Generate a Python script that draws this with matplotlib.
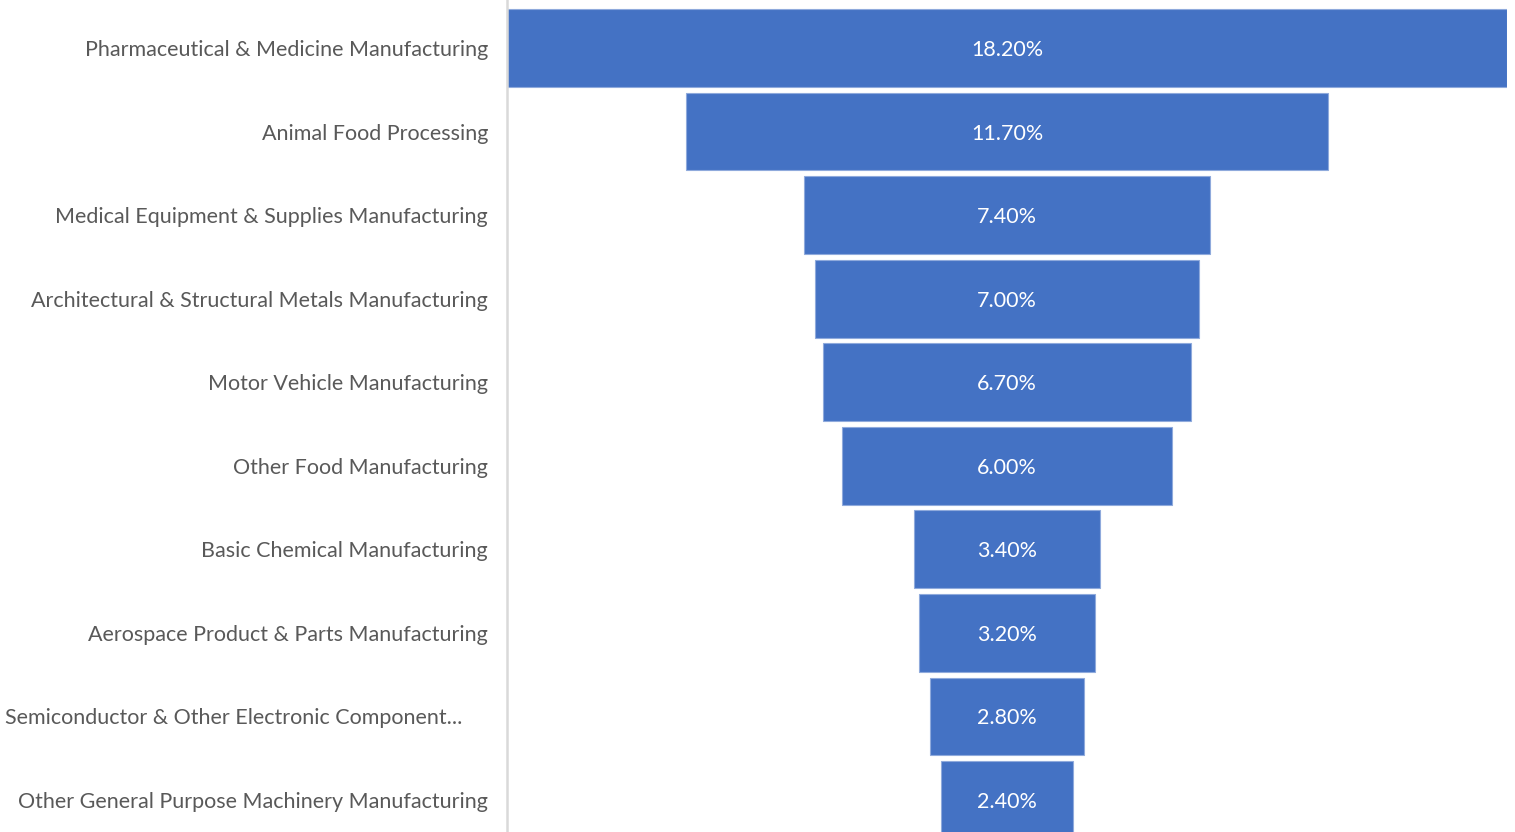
import matplotlib
matplotlib.use("Agg")
import matplotlib.pyplot as plt
import matplotlib.transforms as mtrans
import numpy as np

categories = [
    "Pharmaceutical & Medicine Manufacturing",
    "Animal Food Processing",
    "Medical Equipment & Supplies Manufacturing",
    "Architectural & Structural Metals Manufacturing",
    "Motor Vehicle Manufacturing",
    "Other Food Manufacturing",
    "Basic Chemical Manufacturing",
    "Aerospace Product & Parts Manufacturing",
    "Semiconductor & Other Electronic Component...",
    "Other General Purpose Machinery Manufacturing",
]
values = [18.2, 11.7, 7.4, 7.0, 6.7, 6.0, 3.4, 3.2, 2.8, 2.4]
value_labels = ["18.20%", "11.70%", "7.40%", "7.00%", "6.70%",
                "6.00%", "3.40%", "3.20%", "2.80%", "2.40%"]

W, H = 1515, 832
fig = plt.figure(figsize=(W / 100, H / 100), dpi=100)
fig.patch.set_facecolor("white")

ax_left = 507 / W
ax_w = 1000 / W
ax = fig.add_axes([ax_left, 0, ax_w, 1])

vmax = max(values)
vals = np.array(values)
y = np.arange(len(values))
lefts = (vmax - vals) / 2

ax.barh(y, vals, left=lefts, height=0.93, color="#4472C4",
        edgecolor="#8FAADC", linewidth=0.8, zorder=2)

for yi, v, lab in zip(y, vals, value_labels):
    ax.text(vmax / 2, yi, lab, ha="center", va="center_baseline",
            color="white", fontsize=15.5, family="Lato", zorder=3)

ax.set_xlim(0, vmax)
pitch = 83.5
ax.set_ylim(9 + 32 / pitch, -48 / pitch)

ax.set_yticks(y)
ax.set_yticklabels([c if i != 8 else "" for i, c in enumerate(categories)],
                   fontsize=15.5, family="Lato", color="#595959")
ax.tick_params(axis="y", length=0, pad=13.7)
ax.set_xticks([])

# truncated label is placed further left (as in the original)
trans = mtrans.offset_copy(ax.get_yaxis_transform(), fig=fig, x=-0.45, units="inches")
ax.text(0, y[8], categories[8], transform=trans, ha="right", va="center_baseline",
        fontsize=15.5, family="Lato", color="#595959")

for s in ["top", "right", "bottom"]:
    ax.spines[s].set_visible(False)
ax.spines["left"].set_color("#D9D9D9")
ax.spines["left"].set_linewidth(1.8)

fig.savefig("out.png", dpi=100, facecolor="white")
